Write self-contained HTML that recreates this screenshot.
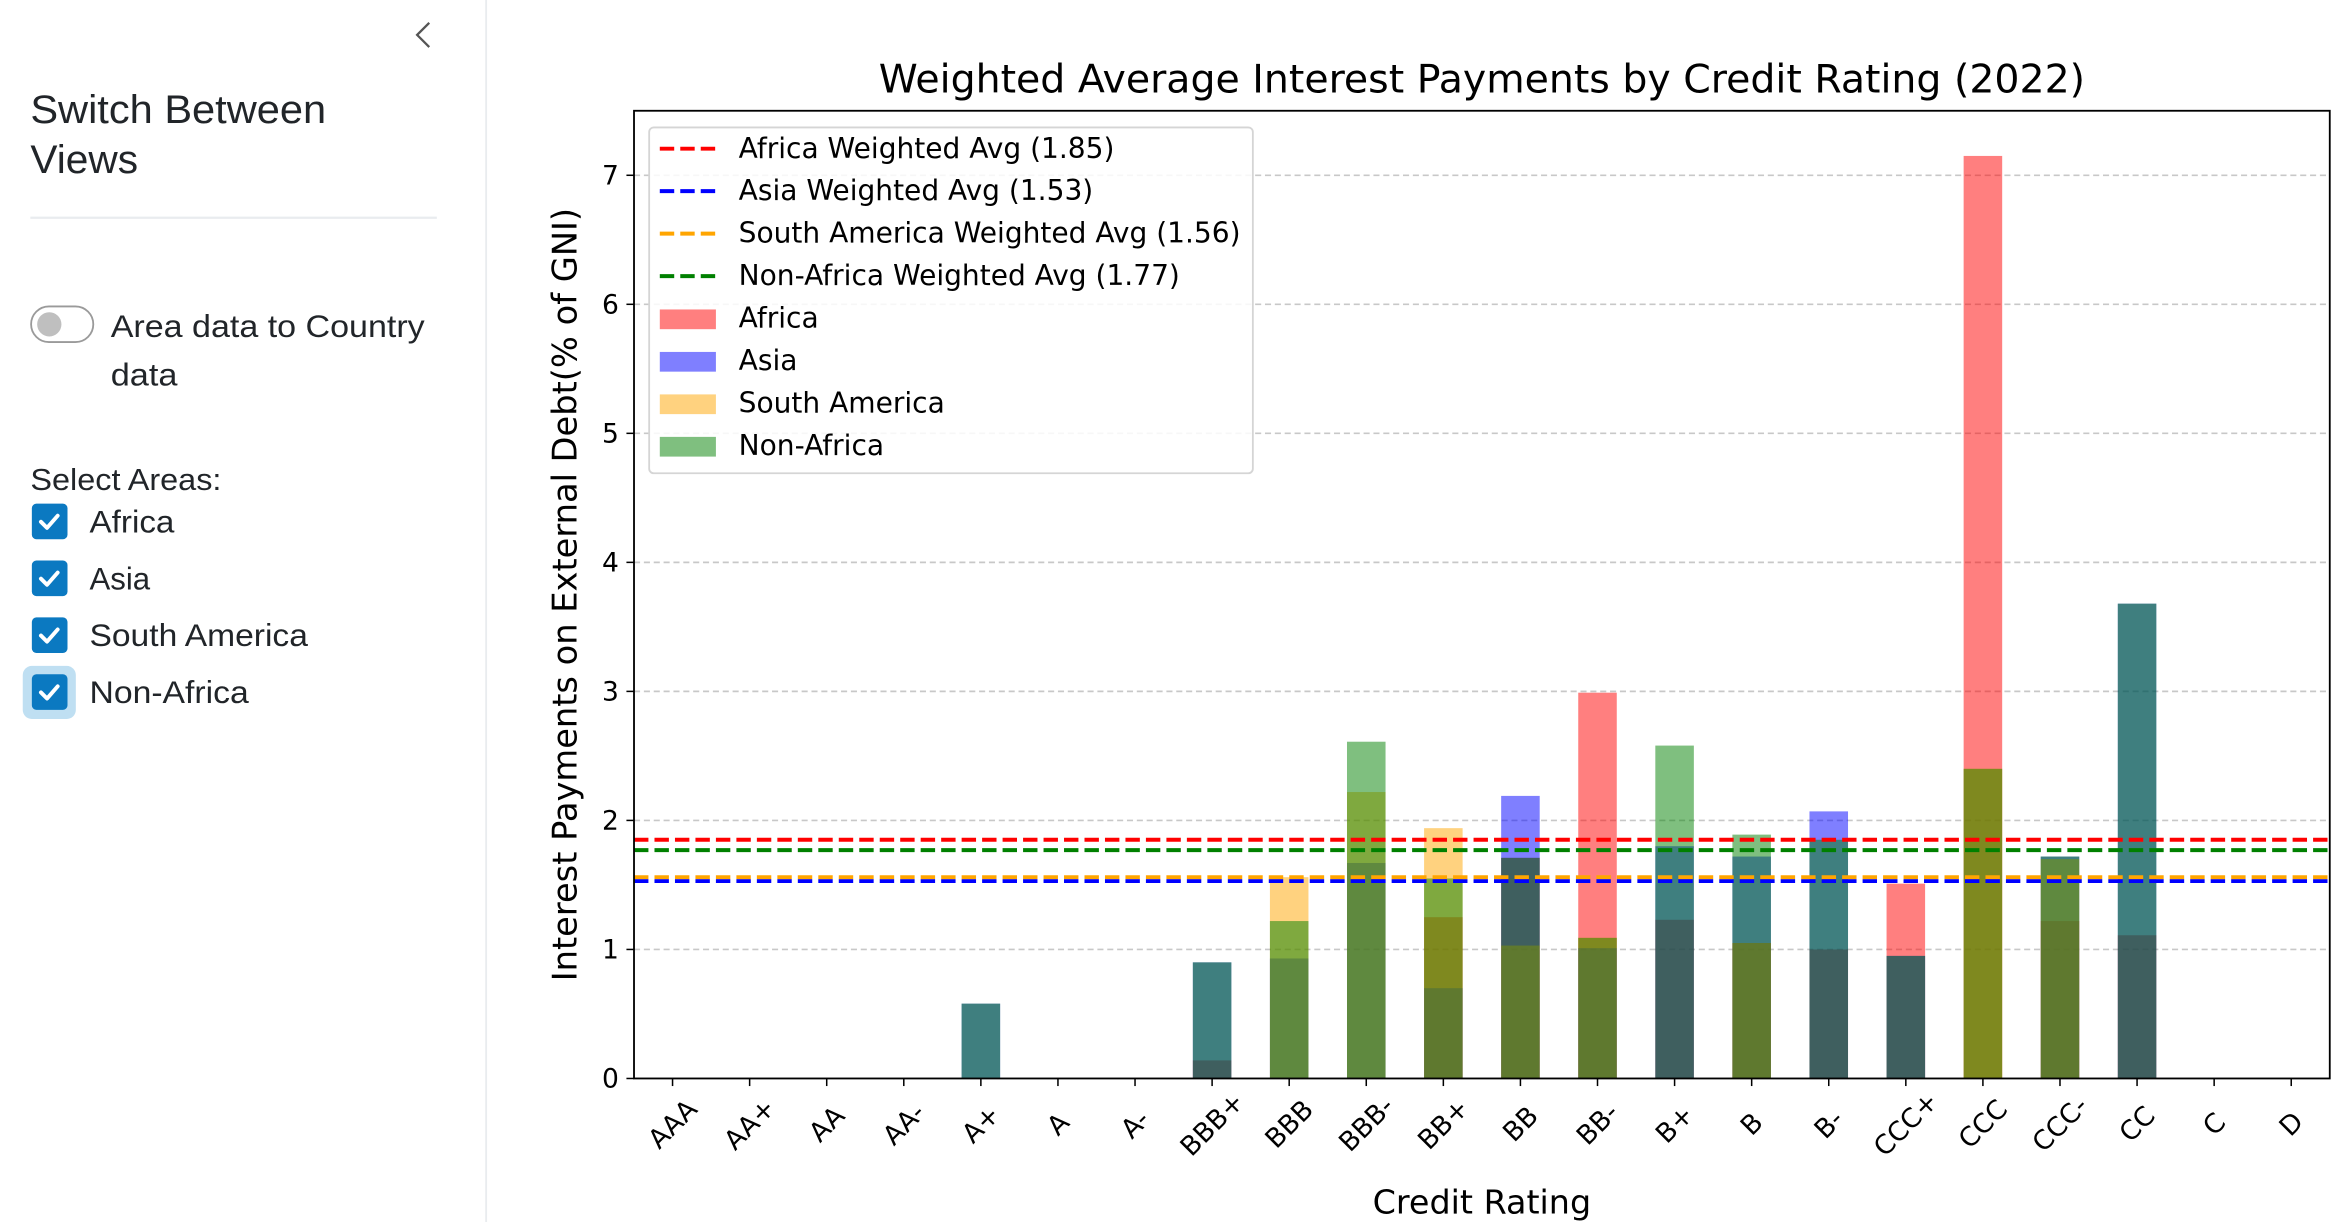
<!DOCTYPE html>
<html><head><meta charset="utf-8"><style>
html,body{margin:0;padding:0;background:#fff;width:2351px;height:1222px;overflow:hidden}
svg{display:block}
.s{font-family:"Liberation Sans","DejaVu Sans",sans-serif;fill:#212529}
.c{font-family:"DejaVu Sans","Liberation Sans",sans-serif;fill:#000}
</style></head><body>
<svg id="root" width="2351" height="1222" viewBox="0 0 1550 805.6" xmlns="http://www.w3.org/2000/svg">
<g>
  <line x1="320.5" y1="0" x2="320.5" y2="806" stroke="#e9ecef" stroke-width="1.2"/>
  <path d="M283,15 L275,23 L283,31" fill="none" stroke="#555" stroke-width="1.5"/>
  <text class="s" x="20" y="81" font-size="26" textLength="195" lengthAdjust="spacingAndGlyphs">Switch Between</text>
  <text class="s" x="20" y="114" font-size="26" textLength="71" lengthAdjust="spacingAndGlyphs">Views</text>
  <line x1="20" y1="143.5" x2="288" y2="143.5" stroke="#e9ecef" stroke-width="1.5"/>
  <g>
    <rect x="20.5" y="202" width="41" height="23.5" rx="11.75" fill="#fff" stroke="#9a9a9a" stroke-width="1.2"/>
    <circle cx="32.5" cy="213.8" r="8" fill="#bfbfbf"/>
  </g>
  <text class="s" x="73" y="222" font-size="20.5" textLength="207" lengthAdjust="spacingAndGlyphs">Area data to Country</text>
  <text class="s" x="73" y="254" font-size="20.5" textLength="44" lengthAdjust="spacingAndGlyphs">data</text>
  <text class="s" x="20" y="323" font-size="20" textLength="126" lengthAdjust="spacingAndGlyphs">Select Areas:</text>
  <rect x="15" y="439" width="35" height="35" rx="6" fill="#bfdff2"/>
  <g id="cbs"></g>
</g>
<g id="chart"></g>
</svg>
<script>
const NS='http://www.w3.org/2000/svg';
const categories=['AAA','AA+','AA','AA-','A+','A','A-','BBB+','BBB','BBB-','BB+','BB','BB-','B+','B','B-','CCC+','CCC','CCC-','CC','C','D'];
const africaValues=[0,0,0,0,0,0,0,0.14,0,0,1.25,1.71,2.99,1.23,1.05,1.0,1.51,7.15,1.22,1.11,0,0];
const asiaValues=[0,0,0,0,0.58,0,0,0.90,0.93,1.67,0.70,2.19,1.01,1.80,1.72,2.07,0.95,0,1.72,3.68,0,0];
const southAmericaValues=[0,0,0,0,0,0,0,0,1.56,2.22,1.94,1.03,1.09,0,1.05,0,0,2.40,1.70,0,0,0];
const nonAfricaValues=[0,0,0,0,0.58,0,0,0.90,1.22,2.61,1.55,1.71,1.09,2.58,1.89,1.85,0.95,2.40,1.72,3.68,0,0];
const avgLabels=['Africa Weighted Avg (1.85)','Asia Weighted Avg (1.53)','South America Weighted Avg (1.56)','Non-Africa Weighted Avg (1.77)'];
const avgValues=[1.85,1.53,1.56,1.77];
const yTicks=[0,1,2,3,4,5,6,7];
const seriesNames=['Africa','Asia','South America','Non-Africa'];
const areaNames=['Africa','Asia','South America','Non-Africa'];
const areaLabelWidths=[56,40,144,105];

function mk(tag,attrs,parent){const e=document.createElementNS(NS,tag);for(const k in attrs)e.setAttribute(k,attrs[k]);parent.appendChild(e);return e;}
const cbs=document.getElementById('cbs');
areaNames.forEach((n,i)=>{
  const y=332+i*37.5;
  const r=mk('rect',{x:21,y:y,width:23.5,height:23.5,rx:3,fill:'#0b79c1'},cbs);
  
  
  const p=mk('path',{d:`M${27} ${y+12} l4 4 l7 -8`,fill:'none',stroke:'#fff','stroke-width':2.6,'stroke-linecap':'round','stroke-linejoin':'round'},cbs);
  
  
  const t=mk('text',{class:'s',x:59,y:y+19,'font-size':20.5,textLength:areaLabelWidths[i],lengthAdjust:'spacingAndGlyphs'},cbs);t.textContent=n;
  
  
});

const g=document.getElementById('chart');
const L=418,R=1536,T=73,B=711;
const yMax=7.5;
const yS=v=>B-(v/yMax)*(B-T);
const step=(R-L)/categories.length;
const xS=i=>L+step*(i+0.5);
const bw=step*0.5;

const title=mk('text',{class:'c',x:977,y:61,'font-size':26,'text-anchor':'middle'},g);
title.textContent='Weighted Average Interest Payments by Credit Rating (2022)';



yTicks.forEach(v=>{
  const y=yS(v);
  if(v>0){const gl=mk('line',{x1:L,x2:R,y1:y,y2:y,stroke:'#c8c8c8','stroke-width':1.1,'stroke-dasharray':'4,2.5'},g);
  
  }
  const tk=mk('line',{x1:L-5,x2:L,y1:y,y2:y,stroke:'#000','stroke-width':1},g);
  
  
  const t=mk('text',{class:'c',x:L-10,y:y+6,'font-size':17.5,'text-anchor':'end'},g);t.textContent=v;
  
  
});

const fills=['rgba(255,0,0,0.5)','rgba(0,0,255,0.5)','rgba(255,165,0,0.5)','rgba(0,128,0,0.5)'];
[africaValues,asiaValues,southAmericaValues,nonAfricaValues].forEach((arr,s)=>{
  arr.forEach((v,i)=>{
    if(v<=0)return;
    const r=mk('rect',{x:xS(i)-bw/2,y:yS(v),width:bw,height:B-yS(v),fill:fills[s]},g);
    
    
  });
});

const lineCols=['#ff0000','#0000ff','#ffa500','#008000'];
avgValues.forEach((v,i)=>{
  const l=mk('line',{x1:L,x2:R,y1:yS(v),y2:yS(v),stroke:lineCols[i],'stroke-width':2.6,'stroke-dasharray':'9.5,4'},g);
  
  
});

categories.forEach((c,i)=>{
  const x=xS(i);
  const tk=mk('line',{x1:x,x2:x,y1:B,y2:B+5,stroke:'#000','stroke-width':1},g);
  
  
  const t=mk('text',{class:'c',x:x,y:B+36,'font-size':17.5,'text-anchor':'middle',transform:`rotate(-45 ${x} ${B+30})`},g);
  t.textContent=c;
  
  
});

const frame=mk('rect',{x:L,y:T,width:R-L,height:B-T,fill:'none',stroke:'#000','stroke-width':1.2},g);



const xl=mk('text',{class:'c',x:977,y:800,'font-size':22,'text-anchor':'middle'},g);xl.textContent='Credit Rating';


const yl=mk('text',{class:'c',x:0,y:0,'font-size':22.2,'text-anchor':'middle',transform:'translate(380 392) rotate(-90)'},g);
yl.textContent='Interest Payments on External Debt(% of GNI)';



const lg=mk('g',{},g);


const lb=mk('rect',{x:428,y:84,width:398,height:228,rx:3,fill:'rgba(255,255,255,0.85)',stroke:'#d5d5d5','stroke-width':1.2},lg);


avgLabels.forEach((lab,i)=>{
  const y=98+i*28;
  const l=mk('line',{x1:435,x2:472,y1:y,y2:y,stroke:lineCols[i],'stroke-width':2.6,'stroke-dasharray':'9.5,4'},lg);
  
  
  const t=mk('text',{class:'c',x:487,y:y+6,'font-size':18.5},lg);t.textContent=lab;
  
  
});
seriesNames.forEach((n,i)=>{
  const y=210+i*28;
  const r=mk('rect',{x:435,y:y-6,width:37,height:13,fill:fills[i]},lg);
  
  
  const t=mk('text',{class:'c',x:487,y:y+6,'font-size':18.5},lg);t.textContent=n;
  
  
});
</script>
</body></html>
